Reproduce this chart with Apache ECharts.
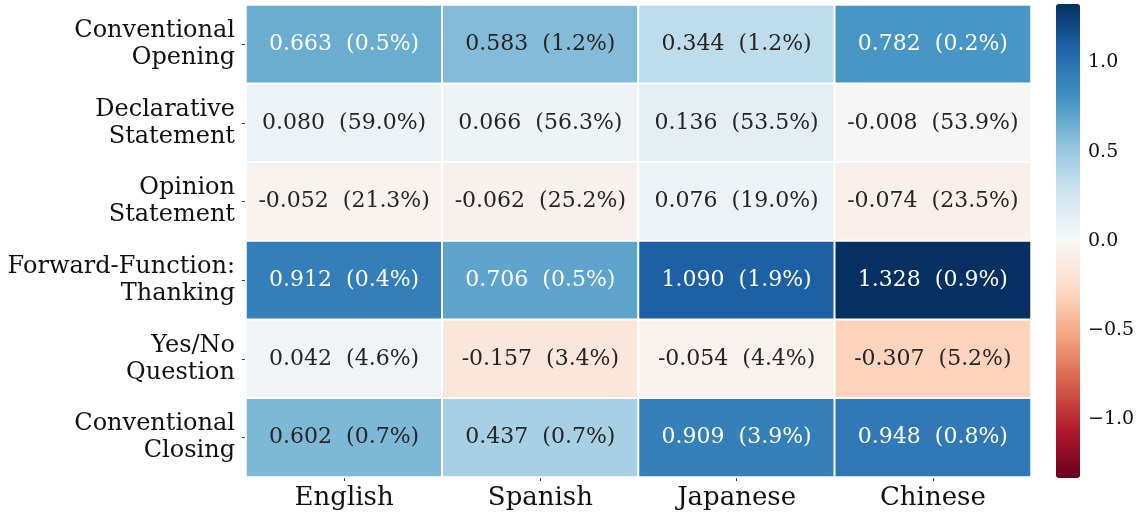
<!DOCTYPE html>
<html>
<head>
<meta charset="utf-8">
<script src="https://cdn.jsdelivr.net/npm/echarts@6/dist/echarts.min.js"></script>
<style>
html,body{margin:0;padding:0;background:#fff;}
#chart{width:1141px;height:519px;}
</style>
</head>
<body>
<div id="chart"></div>
<script>
const languages = ['English', 'Spanish', 'Japanese', 'Chinese'];
const acts = ['Conventional\nOpening', 'Declarative\nStatement', 'Opinion\nStatement', 'Forward-Function:\nThanking', 'Yes/No\nQuestion', 'Conventional\nClosing'];
const scores = [
  [0.663, 0.583, 0.344, 0.782],
  [0.080, 0.066, 0.136, -0.008],
  [-0.052, -0.062, 0.076, -0.074],
  [0.912, 0.706, 1.090, 1.328],
  [0.042, -0.157, -0.054, -0.307],
  [0.602, 0.437, 0.909, 0.948]
];
const shares = [
  [0.5, 1.2, 1.2, 0.2],
  [59.0, 56.3, 53.5, 53.9],
  [21.3, 25.2, 19.0, 23.5],
  [0.4, 0.5, 1.9, 0.9],
  [4.6, 3.4, 4.4, 5.2],
  [0.7, 0.7, 3.9, 0.8]
];
const colorbarTicks = [-1.0, -0.5, 0.0, 0.5, 1.0];
const vLimit = 1.328;

const rdbu = ['#67001f','#b2182b','#d6604d','#f4a582','#fddbc7','#f7f7f7','#d1e5f0','#92c5de','#4393c3','#2166ac','#053061'];

function hexToRgb(h){return [parseInt(h.slice(1,3),16),parseInt(h.slice(3,5),16),parseInt(h.slice(5,7),16)];}
function cmap(v){
  let t=(v+vLimit)/(2*vLimit); t=Math.max(0,Math.min(1,t));
  const p=t*(rdbu.length-1); const i=Math.min(Math.floor(p),rdbu.length-2); const f=p-i;
  const a=hexToRgb(rdbu[i]), b=hexToRgb(rdbu[i+1]);
  return a.map((x,k)=>x+(b[k]-x)*f);
}
function lum(rgb){
  const c=rgb.map(x=>{x/=255;return x<=0.03928?x/12.92:Math.pow((x+0.055)/1.055,2.4);});
  return 0.2126*c[0]+0.7152*c[1]+0.0722*c[2];
}

const data=[];
for(let r=0;r<acts.length;r++){
  for(let c=0;c<languages.length;c++){
    const v=scores[r][c];
    const light = lum(cmap(v))>0.408;
    data.push({
      value:[c,r,v],
      label:{color: light ? '#262626' : '#ffffff'},
      txt: v.toFixed(3)+'  ('+shares[r][c].toFixed(1)+'%)'
    });
  }
}

const FONT='"DejaVu Serif", serif';
const chart=echarts.init(document.getElementById('chart'),null,{renderer:'canvas'});
chart.setOption({
  backgroundColor:'#ffffff',
  animation:false,
  grid:[
    {left:246,top:5,width:785,height:472,containLabel:false},
    {left:1056,top:4,width:24,height:474,containLabel:false}
  ],
  xAxis:[
    {type:'category',data:languages,gridIndex:0,position:'bottom',
     axisLine:{show:false},splitArea:{show:false},
     axisTick:{show:true,alignWithLabel:true,length:4,lineStyle:{color:'#333',width:1}},
     axisLabel:{fontFamily:FONT,fontSize:26,color:'#111',margin:8}},
    {type:'value',gridIndex:1,show:false,min:0,max:1}
  ],
  yAxis:[
    {type:'category',data:acts,gridIndex:0,inverse:true,
     axisLine:{show:false},
     axisTick:{show:true,alignWithLabel:true,length:4,lineStyle:{color:'#333',width:1}},
     axisLabel:{fontFamily:FONT,fontSize:24,color:'#111',margin:11,lineHeight:27,align:'right'}},
    {type:'value',gridIndex:1,position:'right',min:-vLimit,max:vLimit,
     axisLine:{show:false},splitLine:{show:false},
     axisTick:{show:true,length:4,lineStyle:{color:'#333',width:1},customValues:colorbarTicks},
     axisLabel:{fontFamily:FONT,fontSize:19,color:'#111',margin:8,customValues:colorbarTicks,
       formatter:v=>(v<0?'\u2212':'')+Math.abs(v).toFixed(1)}}
  ],
  visualMap:{
    type:'continuous',min:-vLimit,max:vLimit,seriesIndex:0,
    calculable:false,hoverLink:false,
    left:1056,top:4,itemWidth:24,itemHeight:474,padding:0,
    text:null,showLabel:false,
    inRange:{color:rdbu}
  },
  series:[
    {type:'heatmap',xAxisIndex:0,yAxisIndex:0,data:data,
     itemStyle:{borderColor:'#ffffff',borderWidth:2},
     label:{show:true,fontFamily:FONT,fontSize:22,
       formatter:p=>p.data.txt},
     emphasis:{disabled:true}}
  ]
});
</script>
</body>
</html>
